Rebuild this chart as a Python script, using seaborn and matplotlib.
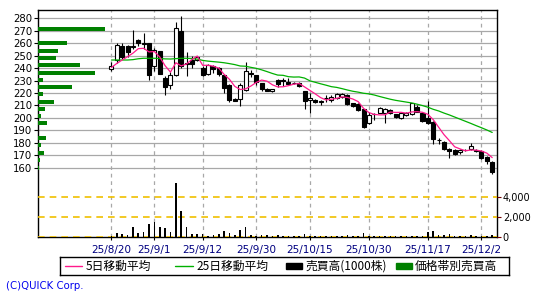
import matplotlib
matplotlib.use("Agg")
import matplotlib.pyplot as plt
from matplotlib.patches import Rectangle
from matplotlib.lines import Line2D
import numpy as np
import pandas as pd
import seaborn as sns

# ---------------- data ----------------
trade_dates = [
    "2025-08-20", "2025-08-21", "2025-08-22", "2025-08-25", "2025-08-26", "2025-08-27", "2025-08-28", "2025-08-29",
    "2025-09-01", "2025-09-02", "2025-09-03", "2025-09-04", "2025-09-05", "2025-09-08", "2025-09-09", "2025-09-10",
    "2025-09-11", "2025-09-12", "2025-09-16", "2025-09-17", "2025-09-18", "2025-09-19", "2025-09-22", "2025-09-24",
    "2025-09-25", "2025-09-26", "2025-09-29", "2025-09-30", "2025-10-01", "2025-10-02", "2025-10-03", "2025-10-06",
    "2025-10-07", "2025-10-08", "2025-10-09", "2025-10-10", "2025-10-14", "2025-10-15", "2025-10-16", "2025-10-17",
    "2025-10-20", "2025-10-21", "2025-10-22", "2025-10-23", "2025-10-24", "2025-10-27", "2025-10-28", "2025-10-29",
    "2025-10-30", "2025-10-31", "2025-11-04", "2025-11-05", "2025-11-06", "2025-11-07", "2025-11-10", "2025-11-11",
    "2025-11-12", "2025-11-13", "2025-11-14", "2025-11-17", "2025-11-18", "2025-11-19", "2025-11-20", "2025-11-21",
    "2025-11-25", "2025-11-26", "2025-11-27", "2025-11-28", "2025-12-01", "2025-12-02", "2025-12-03", "2025-12-04",
]

open_ = [239, 246.5, 258, 258, 257, 262.5, 259, 260, 242, 253.5,
         232, 226.5, 234.5, 270, 244, 246.5, 246.5, 240.4, 235.3, 241.7,
         239.8, 234.5, 226.5, 215.2, 215.2, 222.4, 235.8, 234.5, 227.8, 223,
         221.6, 230.5, 230.2, 229, 227.8, 227.8, 221.9, 214.4, 214.4, 213,
         215.7, 214.4, 216.3, 216.5, 218.4, 211.7, 210.9, 206.9, 195.6, 202.9,
         204.2, 203.7, 206.4, 203.1, 199.9, 202.1, 202.9, 208.5, 204.2, 199.7,
         197, 182.3, 180.9, 175, 174.2, 172.6, 174.2, 174.8, 174.2, 173.7,
         168.3, 164.6]
high = [245, 260.5, 260, 258.5, 271, 263.5, 268, 260.5, 256, 254,
        233.5, 237, 277, 282, 253, 249.5, 250, 241.7, 243, 242.5,
        241, 234.5, 227, 216, 227.8, 245.2, 238.5, 234.8, 228, 224,
        223.5, 231.5, 232.4, 232.4, 229, 228.5, 222, 219.7, 215.2, 214.4,
        218.4, 218.4, 220, 219.7, 219, 212, 211.7, 207.2, 205, 204.2,
        208.5, 207.7, 207, 203.5, 204.2, 205, 212, 210, 204.5, 213.9,
        197.5, 183.6, 181.5, 175.5, 175, 175, 175, 179.6, 174.8, 174,
        169.4, 165.7]
low = [238, 244, 247, 249, 255, 258, 255, 230.5, 238, 235,
       218.5, 223, 234, 240, 233.5, 240, 246, 233.7, 234.8, 236,
       234, 219.8, 213, 213.5, 209.9, 221.9, 233.1, 226.4, 222, 221.5,
       221, 224.6, 225.6, 226.2, 227, 224.5, 207.2, 203.7, 212, 210.4,
       213.1, 212.5, 215.5, 216, 210.5, 209, 205.6, 192, 195, 198.3,
       203.7, 196.2, 203.2, 200, 199.5, 201.5, 202.5, 204.5, 197, 195,
       179, 179.4, 174, 167.5, 170.5, 170.9, 173.5, 174.5, 172.5, 167,
       163, 155]
close = [242, 258.5, 249, 253, 257.5, 260, 260, 234.5, 254.5, 235.5,
         225, 234.5, 272, 242, 243, 243, 248.7, 234.5, 242.5, 239,
         235.3, 223.8, 214.4, 213.9, 226.5, 237.7, 235.5, 229.1, 223, 222,
         223.2, 227, 230, 227.2, 228, 225.6, 213.9, 215.7, 213.1, 213.2,
         215.9, 217, 219.2, 219.2, 210.9, 209.6, 206.4, 192.4, 202.3, 203.1,
         207.7, 206.9, 203.7, 200.5, 203.7, 204.2, 211.7, 205, 197.8, 195.6,
         182.8, 182, 174.8, 173.6, 171, 174.2, 174.4, 177.7, 173.2, 167.5,
         165.7, 156.3]
ma5 = [240.5, 243.8, 246.5, 249.2, 252.0, 255.6, 255.9, 253.0, 253.3, 248.9,
       241.9, 236.8, 244.3, 241.8, 243.3, 246.9, 249.7, 242.2, 242.3, 241.5,
       240.0, 235.0, 231.0, 225.3, 222.8, 223.3, 225.6, 228.5, 230.4, 229.5,
       226.6, 224.9, 225.0, 225.9, 227.1, 227.6, 224.9, 222.1, 219.3, 216.3,
       214.4, 215.0, 215.7, 216.9, 216.4, 215.2, 213.1, 207.7, 204.3, 202.8,
       202.4, 202.5, 204.7, 204.4, 204.5, 203.8, 204.8, 205.0, 204.5, 202.9,
       198.6, 192.6, 186.6, 181.8, 176.8, 175.1, 173.6, 174.2, 174.1, 173.4,
       171.7, 168.1]
ma25 = [246.5, 246.5, 246.5, 246.5, 246.8, 247.5, 247.9, 247.9, 247.9, 247.7,
        247.4, 247.3, 247.6, 247.9, 247.9, 247.7, 247.2, 246.2, 245.6, 245.2,
        244.8, 244.3, 243.6, 242.8, 241.7, 241.5, 240.6, 239.8, 238.6, 237.2,
        235.7, 234.4, 234.2, 233.1, 232.8, 232.9, 232.0, 229.8, 228.6, 227.4,
        226.3, 225.1, 224.5, 223.5, 222.4, 221.4, 220.7, 219.8, 219.3, 218.4,
        217.2, 216.1, 215.0, 214.1, 213.4, 212.7, 212.0, 211.0, 209.9, 208.6,
        206.9, 205.6, 203.9, 202.4, 200.7, 199.0, 197.3, 195.6, 193.8, 192.1,
        190.3, 188.3]
volume = [100, 450, 270, 170, 980, 370, 470, 1290, 1490, 980,
          880, 470, 5460, 2610, 980, 270, 270, 270, 80, 170,
          270, 580, 370, 170, 680, 980, 170, 80, 170, 170,
          80, 170, 60, 60, 60, 60, 270, 60, 60, 60,
          60, 60, 60, 60, 170, 60, 60, 370, 60, 60,
          60, 60, 60, 60, 60, 60, 60, 60, 60, 470,
          580, 170, 170, 270, 60, 60, 60, 170, 60, 60,
          60, 170]

pv_price = [271.2, 260.0, 253.7, 247.9, 242.5, 236.1, 230.2, 224.6, 219.0,
            212.5, 207.1, 201.3, 195.7, 183.9, 178.0, 171.8, 166.0, 160.0]
pv_volume = [6730, 2900, 2000, 1800, 4200, 5700, 500, 3400, 500,
             1600, 700, 300, 900, 800, 300, 600, 200, 100]

tick_labels = ["25/8/20", "25/9/1", "25/9/12", "25/9/30",
               "25/10/15", "25/10/30", "25/11/17", "25/12/2"]
price_ticks = [160, 170, 180, 190, 200, 210, 220, 230, 240, 250, 260, 270, 280]
volume_ticks = [0, 2000, 4000]
volume_tick_labels = ["0", "2,000", "4,000"]
legend_labels = ["5日移動平均", "25日移動平均", "売買高(1000株)", "価格帯別売買高"]
copyright_text = "(C)QUICK Corp."

# ---------------- frame ----------------
df = pd.DataFrame({"date": pd.to_datetime(trade_dates), "open": open_, "high": high,
                   "low": low, "close": close, "ma5": ma5, "ma25": ma25, "volume": volume})
df["x"] = np.arange(len(df))
date_to_x = {d: i for i, d in enumerate(df["date"])}
tick_pos = [date_to_x[pd.Timestamp("20" + t.replace("/", "-"))] for t in tick_labels]

PINK = "#ff1a8c"
GREEN_MA = "#00b000"
GREEN_PV = "#008000"
GRID = "#a8a8a8"
YELLOW = "#f0c000"

sns.set_style("white")
plt.rcParams["font.family"] = ["DejaVu Sans", "Noto Sans CJK JP"]

W, H = 550, 300
fig = plt.figure(figsize=(W / 100, H / 100), dpi=100)
fig.patch.set_facecolor("white")


def px_rect(x0, y0, x1, y1):
    return [x0 / W, 1 - y1 / H, (x1 - x0) / W, (y1 - y0) / H]


ax = fig.add_axes(px_rect(37.7, 10, 497.3, 237))
ax.set_facecolor("white")
ax.set_xlim(-13.76, 71.95)
ax.set_ylim(104.34, 286.67)

# price gridlines + date dashed lines
ax.set_yticks(price_ticks)
ax.set_yticklabels([str(p) for p in price_ticks])
ax.set_xticks(tick_pos)
ax.set_xticklabels(tick_labels)
ax.grid(axis="y", color=GRID, lw=0.9, ls="-")
ax.grid(axis="x", color=GRID, lw=0.9, ls=(0, (3, 3)))
ax.set_axisbelow(True)

# candles
up = df["close"] >= df["open"]
ax.vlines(df["x"], df["low"], df["high"], color="black", lw=0.8, zorder=3)
body_bottom = np.minimum(df["open"], df["close"])
body_height = np.maximum(np.abs(df["close"] - df["open"]), 0.25)
ax.bar(df["x"], body_height, bottom=body_bottom, width=0.75,
       color=np.where(up, "white", "black"), edgecolor="black", lw=0.8, zorder=4)

# moving averages
sns.lineplot(data=df, x="x", y="ma25", ax=ax, color=GREEN_MA, lw=0.9, legend=False, zorder=5)
sns.lineplot(data=df, x="x", y="ma5", ax=ax, color=PINK, lw=0.9, legend=False, zorder=6)
ax.set_xlabel("")
ax.set_ylabel("")

for s in ax.spines.values():
    s.set_color("black")
    s.set_linewidth(1.0)
    s.set_visible(True)

ax.tick_params(axis="y", direction="out", length=3, width=0.8, colors="black",
               labelsize=7.3, pad=1, left=True, labelleft=True)
ax.tick_params(axis="x", direction="out", length=2, width=0.8, colors="black",
               labelsize=7.5, pad=3.5, bottom=True, labelbottom=True)
for lab in ax.get_xticklabels():
    lab.set_color("#000080")

# volume axis
vax = ax.twinx()
vax.set_ylim(0, 22872)
vax.bar(df["x"], df["volume"], width=0.3, color="black", lw=0, zorder=3)
vax.set_yticks(volume_ticks)
vax.set_yticklabels(volume_tick_labels)
vax.grid(axis="y", color=YELLOW, lw=1.2, ls=(0, (4, 3)))
vax.grid(axis="x", visible=False)
vax.tick_params(axis="y", direction="out", length=3, width=0.8, color="#700000",
                labelcolor="black", labelsize=7, pad=1, right=True, labelright=True)
for s in vax.spines.values():
    s.set_visible(False)

# price-by-volume axis
pax = ax.twiny()
pax.set_xlim(0, 45960)
pax.barh(pv_price, pv_volume, height=3.0, color=GREEN_PV, lw=0, zorder=3)
pax.set_xticks([])
pax.tick_params(top=False, labeltop=False, bottom=False)
for s in pax.spines.values():
    s.set_visible(False)

# legend box
lx0, ly0, lx1, ly1 = 60, 257, 509, 275
lax = fig.add_axes(px_rect(lx0, ly0, lx1, ly1))
lax.set_xlim(lx0, lx1)
lax.set_ylim(ly1, ly0)
lax.set_xticks([])
lax.set_yticks([])
for s in lax.spines.values():
    s.set_color("black")
    s.set_linewidth(1.0)
yc = (ly0 + ly1) / 2
lax.add_line(Line2D([65, 82], [yc, yc], color=PINK, lw=1.0))
lax.add_line(Line2D([175, 193], [yc, yc], color=GREEN_MA, lw=1.0))
lax.add_patch(Rectangle((286, yc - 3), 16, 6, color="black"))
lax.add_patch(Rectangle((396, yc - 3), 16, 6, color=GREEN_PV))
cjk = ["Noto Sans CJK JP", "DejaVu Sans"]
for xt, lab in zip([86, 196, 305, 415], legend_labels):
    lax.text(xt, yc, lab, va="center", ha="left", fontsize=8.5, family=cjk, color="black")

fig.text(6 / W, 1 - 286 / H, copyright_text, color="#0000ee", fontsize=7.3, va="center", ha="left")

fig.savefig("out.png", dpi=100, facecolor="white")
